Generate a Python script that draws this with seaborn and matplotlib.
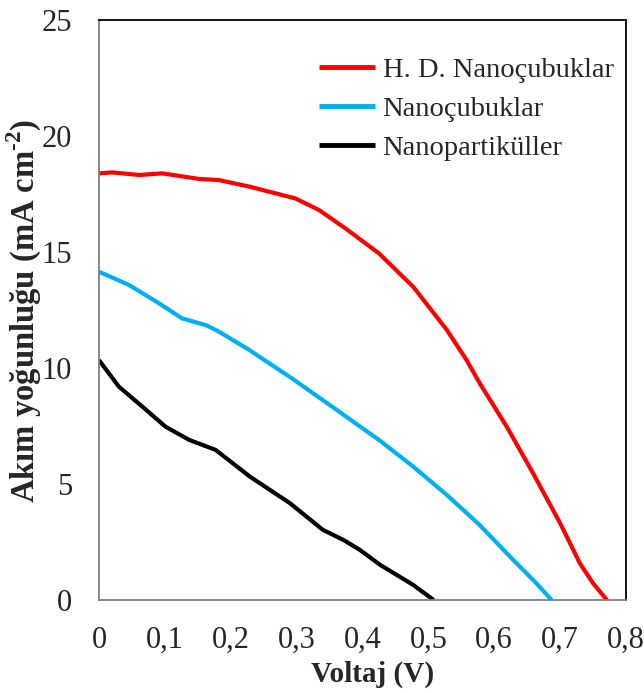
import matplotlib
matplotlib.use("Agg")
import matplotlib.pyplot as plt
import seaborn as sns
import pandas as pd

# J-V curves of the three photoanodes
hd_v = [0, 0.02, 0.061, 0.096, 0.152, 0.182, 0.228, 0.268, 0.298, 0.334, 0.374,
        0.425, 0.477, 0.528, 0.558, 0.578, 0.619, 0.659, 0.700, 0.730, 0.750, 0.771]
hd_j = [18.39, 18.43, 18.32, 18.39, 18.15, 18.1, 17.82, 17.53, 17.31, 16.81, 16.02,
        14.94, 13.5, 11.64, 10.34, 9.34, 7.47, 5.46, 3.31, 1.58, 0.72, 0]

rod_v = [0, 0.0455, 0.091, 0.126, 0.162, 0.182, 0.228, 0.293, 0.354, 0.425, 0.477,
         0.528, 0.578, 0.629, 0.664, 0.687]
rod_j = [14.15, 13.58, 12.79, 12.14, 11.85, 11.57, 10.78, 9.55, 8.33, 6.9, 5.75,
         4.53, 3.23, 1.72, 0.72, 0]

part_v = [0, 0.03, 0.066, 0.101, 0.137, 0.177, 0.229, 0.29, 0.34, 0.371, 0.396,
          0.427, 0.477, 0.508]
part_j = [10.34, 9.2, 8.33, 7.47, 6.9, 6.47, 5.32, 4.17, 3.02, 2.59, 2.16,
          1.51, 0.65, 0]

series_names = ["H. D. Nanoçubuklar", "Nanoçubuklar", "Nanopartiküller"]
series_colors = ["#ff0000", "#00b0f0", "#000000"]

x_ticks = [0, 0.1, 0.2, 0.3, 0.4, 0.5, 0.6, 0.7, 0.8]
x_tick_labels = ["0", "0,1", "0,2", "0,3", "0,4", "0,5", "0,6", "0,7", "0,8"]
y_ticks = [0, 5, 10, 15, 20, 25]

frames = []
for name, v, j in zip(series_names, [hd_v, rod_v, part_v], [hd_j, rod_j, part_j]):
    frames.append(pd.DataFrame({"V": v, "J": j, "örnek": name}))
df = pd.concat(frames, ignore_index=True)

sns.set_style("white")
plt.rcParams["font.family"] = ["Liberation Serif", "DejaVu Serif"]
plt.rcParams["mathtext.fontset"] = "custom"
plt.rcParams["mathtext.rm"] = "Liberation Serif:bold"
plt.rcParams["mathtext.bf"] = "Liberation Serif:bold"
plt.rcParams["lines.solid_joinstyle"] = "round"
plt.rcParams["lines.solid_capstyle"] = "butt"

fig = plt.figure(figsize=(6.44, 6.93), dpi=100)
ax = fig.add_axes([99 / 644, 93 / 693, 527 / 644, 580 / 693])

sns.lineplot(data=df, x="V", y="J", hue="örnek", palette=series_colors,
             hue_order=series_names, sort=False, estimator=None,
             linewidth=3, ax=ax, legend=True)

ax.set_xlim(0, 0.8)
ax.set_ylim(0, 25)
ax.set_xticks(x_ticks)
ax.set_xticklabels(x_tick_labels)
ax.set_yticks(y_ticks)
ax.tick_params(axis="both", which="major", labelsize=22, length=6.5, width=1,
               color="#808080", direction="out")
ax.tick_params(axis="x", pad=12)
ax.tick_params(axis="y", pad=13)

for side in ["left", "bottom"]:
    ax.spines[side].set_color("#808080")
    ax.spines[side].set_linewidth(1.3)
for side in ["top", "right"]:
    ax.spines[side].set_color("#000000")
    ax.spines[side].set_linewidth(1.3)

ax.set_xlabel("Voltaj (V)", fontsize=21, fontweight="bold")
ax.xaxis.set_label_coords(0.52, -0.104)
ax.set_ylabel(r"Akım yoğunluğu (mA cm$^{\text{-}2}$)", fontsize=23.5,
              fontweight="bold")
ax.yaxis.set_label_coords(-0.104, 0.498)

leg = ax.legend(frameon=False, loc="upper left", bbox_to_anchor=(0.395, 0.955),
                fontsize=20.5, handlelength=2.0, handletextpad=0.25,
                labelspacing=0.45, borderaxespad=0)
for line in leg.get_lines():
    line.set_linewidth(3.5)

fig.savefig("out.png", dpi=100)
